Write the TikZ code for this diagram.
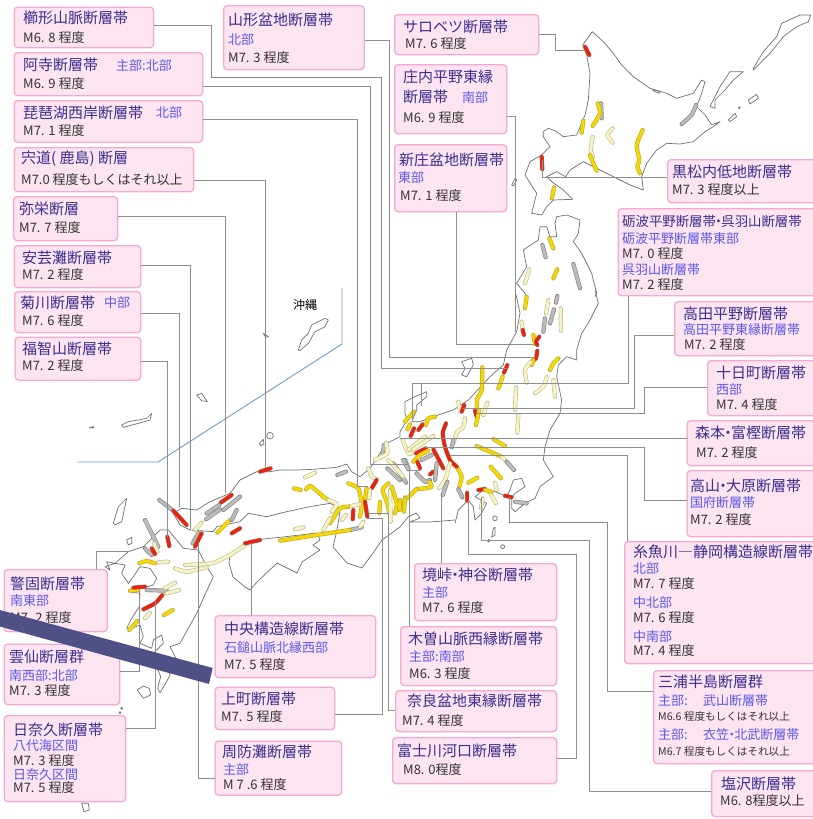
\documentclass[tikz,border=0pt]{standalone}
\usepackage{fontspec}
\setmainfont{Noto Sans CJK JP}
\definecolor{boxfill}{HTML}{FDE4F1}
\definecolor{boxline}{HTML}{F9A6D2}
\definecolor{ttlc}{HTML}{3B2E8E}
\definecolor{subc}{HTML}{5C58EA}
\definecolor{magc}{HTML}{333333}
\definecolor{conn}{HTML}{8E8E8E}
\definecolor{coast}{HTML}{6E6E6E}
\definecolor{barc}{HTML}{4F5186}
\definecolor{bluel}{HTML}{6F9BD0}
\definecolor{Ri}{HTML}{E8240C}\definecolor{Ro}{HTML}{B0584A}
\definecolor{Yi}{HTML}{F5D800}\definecolor{Yo}{HTML}{B8A838}
\definecolor{Pi}{HTML}{F6F3C4}\definecolor{Po}{HTML}{BDB98E}
\definecolor{Gi}{HTML}{BBBBBB}\definecolor{Go}{HTML}{808080}
\tikzset{
 fbox/.style={draw=boxline,fill=boxfill,line width=1.3pt,rounded corners=3.5pt,anchor=north west,inner sep=0pt},
 ttl/.style={anchor=west,inner sep=0pt,text=ttlc,font=\fontsize{15}{15}\selectfont},
 sub/.style={anchor=west,inner sep=0pt,text=subc,font=\fontsize{13}{13}\selectfont},
 mag/.style={anchor=west,inner sep=0pt,text=magc,font=\fontsize{13}{13}\selectfont},
 tiny/.style={anchor=west,inner sep=0pt,text=magc,font=\fontsize{10.6}{11}\selectfont},
 wire/.style={draw=conn,line width=1pt},
 land/.style={draw=coast,line width=.7pt,line join=round},
 z2/.style={shift={(0,280)},scale=1/3},
 z3/.style={shift={(400,0)},scale=1/3},
 z4/.style={shift={(400,290)},scale=1/3},
 z5/.style={shift={(0,540)},scale=1/3},
 z7/.style={shift={(280,380)},scale=1/3},
 z11/.style={shift={(130,480)},scale=1/3},
}
\newcommand\flt[2]{%
 \draw[line width=4.2pt,line cap=round,line join=round,color=#1o] plot[smooth,tension=.35] coordinates {#2};%
 \draw[line width=3pt,line cap=round,line join=round,color=#1i] plot[smooth,tension=.35] coordinates {#2};}
\newcommand\bx[5]{\node[fbox,minimum width=#4pt-#2pt,minimum height=#5pt-#3pt] (#1) at (#2,#3) {};}
\newcommand\lb[5]{\node[#1] (#2) at (#3,#4) {#5};}
\newcommand\tdot{\kern-.3em ・\kern-.3em }
\begin{document}
\begin{tikzpicture}[x=1pt,y=-1pt]
\useasboundingbox (0,0) rectangle (812,819);
% ---- land
\begin{scope}[z3]
 \draw[land] (577,95)--(610,125)--(640,160)--(665,195)--(700,230)--(750,265)--(800,280)--(830,295)--(880,280)--(905,240)--(915,245)--(905,280)--(890,320)--(915,345)--(935,375)--(960,365)--(940,380)--(915,395)--(880,425)--(840,432)--(800,430)--(770,450)--(740,490)--(725,530)--(730,570)--(690,555)--(640,530)--(590,505)--(550,485)--(510,510)--(497,530)--(470,515)--(440,530)--(455,545)--(490,570)--(518,598)--(460,600)--(440,620)--(425,645)--(395,640)--(410,580)--(375,525)--(390,485)--(425,465)--(450,440)--(430,410)--(430,395)--(445,385)--(470,395)--(490,410)--(530,405)--(555,345)--(565,300)--(570,220)--(560,165)--(548,135)--cycle;
 \draw[land] (1060,205)--(1090,155)--(1130,110)--(1145,70)--(1200,45)--(1232,45)--(1225,65)--(1190,80)--(1150,110)--(1110,160)--(1075,195)--(1060,210)--cycle;
 \draw[land] (930,320)--(960,260)--(990,215)--(1030,215)--(1000,240)--(975,270)--(945,300)--(945,325)--cycle;
 \draw[land] (1045,300)--(1070,283)--(1075,295)--(1050,312)--cycle;
 \draw[land] (985,360)--(1005,340)--(1010,350)--(990,365)--cycle;
 \draw[land] (1018,323) circle (3);
 \draw[land] (758,268)--(780,275)--(778,280)--(758,272)--cycle;
 \draw[land] (335,555)--(345,535)--(350,540)--(340,558)--cycle;
 \draw[land] (470,650)--(500,645)--(540,660)--(535,700)--(520,725)--(545,760)--(575,820)--(590,880)--(585,890);
 \draw[land] (470,650)--(465,670)--(470,710)--(450,710)--(440,680)--(420,680)--(415,720)--(370,750)--(380,800)--(350,850)--(375,880)--(380,890);
\end{scope}
\begin{scope}[z4]
 \draw[land] (585,0)--(595,40)--(570,90)--(545,130)--(530,180)--(530,210)--(500,200)--(475,225)--(470,260)--(485,330)--(480,370)--(450,420)--(435,470)--(430,510)--(460,560)--(420,590)--(405,625)--(375,640)--(345,665)--(335,655)--(335,625)--(345,610)--(375,590)--(365,565)--(340,570)--(330,600)--(320,620)--(285,605)--(250,600)--(225,620)--(260,640)--(245,670)--(225,690)--(220,650)--(205,630)--(175,660)--(165,700);
 \draw[land] (345,0)--(360,70)--(350,125)--(320,180)--(310,225)--(270,260)--(205,330)--(160,360)--(100,380)--(60,395)--(35,395)--(50,360)--(50,345)--(80,320)--(80,305)--(45,320)--(15,335)--(15,370)--(22,390)--(0,425);
 \draw[land] (185,215)--(215,205)--(220,225)--(200,260)--(185,255)--(195,235)--cycle;
 \draw[land] (285,685) circle (7);
 \draw[land] (280,715)--(285,712)--(285,735)--(275,742)--cycle;
 \draw[land] (266,752) circle (4);
 \draw[land] (308,770) circle (6);
\end{scope}
\begin{scope}[z7]
 \draw[land] (360,155)--(360,170)--(320,190)--(300,220)--(270,265)--(240,290)--(215,275)--(200,252)--(170,262)--(100,268)--(50,270)--(0,270);
\end{scope}
\begin{scope}[z2]
 \draw[land] (840,570)--(810,575)--(770,575)--(720,600)--(690,640)--(630,665)--(590,690)--(545,685)--(520,700)--(540,735)--(570,750)--(640,755)--(650,740)--(720,725)--(745,700)--(800,710)--(860,695)--(930,680)--(990,670)--(1010,680)--(1020,695);
 \draw[land] (340,730)--(355,680)--(380,655)--(375,680)--(365,725)--(345,735)--cycle;
 \draw[land] (380,780)--(395,772)--(395,790)--(385,795)--cycle;
 \draw[land] (268,443)--(282,440)--(280,444)--cycle;
 \draw[land] (365,435)--(385,425)--(415,420)--(440,415)--(455,400)--(450,420)--(415,430)--(370,442)--cycle;
 \draw[land] (895,210)--(905,180)--(925,160)--(935,135)--(975,115)--(985,120)--(975,140)--(945,155)--(925,190)--(900,212)--cycle;
 \draw[land] (790,160)--(805,170)--(797,172)--cycle;
 \draw[land] (810,467) circle (10);
 \draw[land] (778,490)--(790,478)--(792,492)--(782,497)--cycle;
 \draw[land] (590,345)--(605,340)--(622,365)--(605,362)--cycle;
\end{scope}
% Kii and Ise coast, px
\draw[land] (340,512)--(337,530)--(333,547)--(347,563)--(362,568)--(373,553)--(382,540)--(400,527)--(408,517)--(416,513)--(420,518)--(410,522)--(430,522)--(455,520);
% Shikoku, px
\draw[land] (245,543)--(230,555)--(229,563)--(233,577)--(245,587)--(250,590)--(257,582)--(277,563)--(297,573)--(302,562)--(320,550)--(313,545)--(320,540)--(317,533)--(283,537)--(253,540)--cycle;
% Kyushu
\begin{scope}[z5]
 \draw[land] (595,30)--(620,80)--(640,110)--(610,175)--(590,220)--(540,310)--(510,320)--(530,360)--(505,385)--(510,405)--(497,430)--(480,458)--(473,445)--(482,410)--(470,380)--(465,335)--(490,310)--(485,285)--(460,300)--(455,325)--(420,310)--(430,290)--(420,255)--(395,265)--(380,265)--(395,235)--(418,200)--(420,160)--(385,155)--(425,145)--(460,135)--(470,115)--(450,85)--(420,80)--(400,110)--(385,130)--(365,100)--(375,75)--(345,70)--(320,65)--(330,90)--(315,80)--(345,70)--(385,35)--(430,20)--(480,-30)--(505,-30)--(530,0)--(550,25)--(595,30);
 \draw[land] (412,450)--(430,438)--(448,445)--(452,465)--(430,475)--cycle;
 \draw[land] (245,790)--(265,790)--(268,810)--(252,815)--cycle;
 \draw[land] (365,505) circle (3);
 \draw[land] (360,518) circle (3);
\end{scope}
% ---- faults
\begin{scope}[z3]
 \flt{G}{(603,310)(605,355)}
 \flt{R}{(555,140)(568,165)}
 \flt{Y}{(593,310)(600,340)(578,378)}
 \flt{Y}{(550,362)(545,398)}
 \flt{P}{(578,410)(572,450)(578,470)}
 \flt{Y}{(570,465)(580,490)(590,512)}
 \flt{P}{(638,385)(622,405)(638,428)}
 \flt{Y}{(728,390)(710,435)(718,480)(712,500)(720,520)}
 \flt{G}{(888,315)(875,345)(845,372)}
 \flt{R}{(425,470)(427,508)}
 \flt{Y}{(462,562)(456,595)}
 \flt{Y}{(448,715)(460,745)}
 \flt{G}{(427,735)(437,772)}
 \flt{Y}{(472,808)(460,835)}
 \flt{G}{(520,792)(540,865)}
 \flt{P}{(388,808)(375,850)}
\end{scope}
\begin{scope}[z4]
 \flt{Y}{(380,20)(375,55)}
 \flt{P}{(365,95)(368,120)}
 \flt{R}{(368,120)(372,135)}
 \flt{Y}{(400,135)(405,162)}
 \flt{R}{(418,140)(408,155)(412,165)}
 \flt{R}{(412,182)(408,205)(398,212)}
 \flt{Y}{(400,210)(395,225)}
 \flt{G}{(472,18)(468,38)}
 \flt{P}{(445,30)(438,70)}
 \flt{G}{(462,58)(450,100)}
 \flt{P}{(482,55)(483,122)}
 \flt{G}{(435,85)(430,125)}
 \flt{Y}{(475,205)(460,220)(450,240)}
 \flt{P}{(392,215)(375,240)(380,278)}
 \flt{P}{(440,262)(430,290)(405,310)}
 \flt{P}{(460,270)(465,320)}
 \flt{R}{(322,225)(312,248)}
 \flt{Y}{(308,260)(295,295)}
 \flt{Y}{(247,232)(245,300)(232,325)(230,352)}
 \flt{P}{(175,335)(180,365)}
 \flt{R}{(193,345)(185,365)}
 \flt{P}{(262,338)(250,375)}
 \flt{R}{(225,362)(230,380)}
 \flt{Y}{(238,360)(228,405)}
 \flt{P}{(348,292)(345,360)}
 \flt{P}{(355,375)(352,428)}
 \flt{Y}{(42,365)(15,395)}
 \flt{Y}{(30,403)(22,418)}
 \flt{R}{(68,403)(55,420)}
 \flt{R}{(42,415)(32,438)}
 \flt{Y}{(105,380)(85,385)(78,405)}
 \flt{Y}{(170,530)(185,560)(178,590)}
 \flt{R}{(138,400)(128,430)(135,470)(150,510)(170,530)}
 \flt{P}{(195,385)(190,412)(172,425)(160,460)}
 \flt{G}{(160,450)(155,472)}
 \flt{Y}{(280,447)(315,468)}
 \flt{Y}{(230,468)(305,500)}
 \flt{P}{(305,500)(320,515)}
 \flt{G}{(320,515)(342,540)}
 \flt{Y}{(272,530)(303,565)}
 \flt{Y}{(205,578)(232,563)}
 \flt{G}{(175,598)(187,622)}
 \flt{R}{(202,608)(202,632)}
 \flt{R}{(235,600)(255,597)}
 \flt{P}{(285,578)(290,600)}
 \flt{P}{(268,605)(288,640)}
 \flt{Y}{(255,600)(275,605)}
 \flt{P}{(248,625)(243,655)}
 \flt{R}{(315,617)(335,622)}
 \flt{G}{(345,635)(380,640)}
 \flt{R}{(100,478)(130,535)}
 \flt{R}{(48,490)(78,475)}
 \flt{P}{(8,450)(25,490)(35,490)}
 \flt{P}{(25,480)(75,440)}
 \flt{P}{(40,478)(100,438)}
 \flt{Y}{(85,482)(60,495)(40,515)}
 \flt{G}{(95,495)(65,510)}
 \flt{R}{(52,515)(60,535)}
 \flt{R}{(100,545)(90,553)}
 \flt{G}{(110,520)(105,570)}
 \flt{P}{(150,520)(135,570)(118,595)}
 \flt{G}{(142,575)(128,615)}
 \flt{G}{(15,510)(25,535)}
 \flt{G}{(50,550)(75,575)(90,570)}
 \flt{Y}{(50,597)(75,595)(95,590)(88,575)}
 \flt{Y}{(50,597)(22,625)}
 \flt{Y}{(15,622)(10,660)}
\end{scope}
\begin{scope}[z2]
 \flt{R}{(780,575)(812,565)}
 \flt{P}{(915,592)(945,578)}
 \flt{G}{(1012,585)(1038,575)}
 \flt{Y}{(882,625)(902,630)}
 \flt{Y}{(918,628)(932,618)(970,650)(985,660)}
 \flt{P}{(985,660)(1010,672)(995,695)}
 \flt{P}{(885,748)(910,742)}
\end{scope}
\begin{scope}[z7]
 \flt{G}{(312,195)(308,222)}
 \flt{P}{(318,188)(322,220)(285,240)}
 \flt{P}{(265,265)(275,290)(285,295)}
 \flt{Y}{(205,310)(235,325)(245,375)(240,410)}
 \flt{R}{(290,300)(275,325)}
 \flt{Y}{(260,325)(255,360)}
 \flt{P}{(268,355)(270,330)}
 \flt{R}{(255,365)(262,410)}
 \flt{R}{(220,390)(218,418)}
 \flt{Y}{(300,365)(298,400)}
 \flt{Y}{(325,310)(308,330)(322,370)(328,400)}
 \flt{P}{(330,330)(332,425)}
 \flt{Y}{(335,320)(350,370)(345,400)}
 \flt{Y}{(375,355)(372,395)}
 \flt{Y}{(360,360)(358,390)}
 \flt{G}{(340,250)(378,308)}
 \flt{G}{(322,265)(360,300)}
 \flt{P}{(325,240)(370,290)}
 \flt{G}{(370,240)(385,268)}
 \flt{P}{(205,380)(240,372)}
 \flt{Y}{(150,430)(180,385)(205,380)}
 \flt{P}{(185,420)(198,405)}
 \flt{P}{(130,450)(150,415)}
 \flt{G}{(210,450)(245,442)}
 \flt{P}{(240,440)(250,425)}
 \flt{Y}{(0,482)(130,462)(210,450)}
\end{scope}
\begin{scope}[z11]
 \flt{G}{(88,60)(130,92)}
 \flt{R}{(130,92)(170,135)}
 \flt{G}{(45,120)(85,200)}
 \flt{G}{(45,205)(65,225)}
 \flt{P}{(72,190)(82,215)}
 \flt{R}{(65,205)(75,222)}
 \flt{R}{(112,170)(118,198)}
 \flt{P}{(215,128)(195,150)}
 \flt{G}{(205,160)(188,190)}
 \flt{R}{(215,160)(195,200)}
 \flt{R}{(272,68)(305,45)}
 \flt{G}{(230,100)(268,75)}
 \flt{G}{(228,118)(270,88)}
 \flt{G}{(280,90)(330,50)}
 \flt{Y}{(262,158)(300,120)}
 \flt{G}{(305,120)(320,90)}
 \flt{R}{(305,160)(330,145)}
 \flt{Y}{(28,250)(50,243)(75,250)}
 \flt{P}{(85,247)(115,245)}
 \flt{P}{(135,265)(170,275)(230,262)}
 \flt{P}{(165,255)(245,250)(300,225)(345,195)}
 \flt{R}{(345,190)(390,180)}
\end{scope}
\begin{scope}[z5]
 \flt{G}{(440,150)(500,152)}
 \flt{Y}{(390,152)(415,150)}
 \flt{R}{(400,143)(435,140)}
 \flt{P}{(495,145)(525,128)}
 \flt{P}{(500,160)(538,150)}
 \flt{R}{(430,208)(465,190)(487,165)}
 \flt{P}{(435,235)(450,218)}
 \flt{Y}{(492,225)(518,210)}
 \flt{Y}{(388,270)(412,243)}
\end{scope}
% ---- blue line
\coordinate (bl1) at (342,288);
\coordinate (bl2) at (342,344);
\coordinate (bl3) at (158,462);
\coordinate (bl4) at (77,462);
\draw[bluel,line width=.9pt] (bl1)--(bl2)--(bl3)--(bl4);
\lb{mag}{oki}{293}{305}{\fontsize{12}{12}\selectfont\color{black}沖縄}
% ---- boxes
\bx{a}{13.5}{6.5}{153}{47}
\lb{ttl}{a1}{23}{18}{櫛形山脈断層帯}\lb{mag}{a2}{23}{38}{M6. 8 程度}
\bx{b}{13.5}{52}{202}{95}
\lb{ttl}{b1}{23}{65}{阿寺断層帯}\lb{sub}{b2}{116}{66}{主部:北部}\lb{mag}{b3}{23}{84}{M6. 9 程度}
\bx{c}{13.5}{100}{202}{141.5}
\lb{ttl}{c1}{23}{113}{琵琶湖西岸断層帯}\lb{sub}{c2}{156}{113}{北部}\lb{mag}{c3}{23}{131}{M7. 1 程度}
\bx{d}{13.5}{147}{193}{191}
\lb{ttl}{d1}{21}{159}{宍道( 鹿島) 断層}\lb{mag}{d2}{21}{180}{M7.0 程度もしくはそれ以上}
\bx{e}{13}{196}{117}{240}
\lb{ttl}{e1}{19}{209}{弥栄断層}\lb{mag}{e2}{19}{228}{M7. 7 程度}
\bx{f}{13.5}{245}{140}{287}
\lb{ttl}{f1}{22}{258}{安芸灘断層帯}\lb{mag}{f2}{22}{275}{M7. 2 程度}
\bx{g}{14}{291}{140}{332}
\lb{ttl}{g1}{20}{303}{菊川断層帯}\lb{sub}{g2}{104}{303}{中部}\lb{mag}{g3}{22}{321}{M7. 6 程度}
\bx{h}{14.5}{336.5}{140}{379.5}
\lb{ttl}{h1}{22}{349}{福智山断層帯}\lb{mag}{h2}{22}{366}{M7. 2 程度}
\bx{i}{3.5}{569}{106.5}{631}
\lb{ttl}{i1}{10}{584}{警固断層帯}\lb{sub}{i2}{10}{601}{南東部}\lb{mag}{i3}{10}{618}{M7. 2 程度}
\bx{j}{3.5}{643.5}{119}{704}
\lb{ttl}{j1}{9}{657}{雲仙断層群}\lb{sub}{j2}{9}{676}{南西部:北部}\lb{mag}{j3}{9}{691}{M7. 3 程度}
\bx{k}{3.5}{715}{125}{801}
\lb{ttl}{k1}{13}{730}{日奈久断層帯}\lb{sub}{k2}{13}{746}{八代海区間}\lb{mag}{k3}{13}{761}{M7. 3 程度}\lb{sub}{k4}{13}{775}{日奈久区間}\lb{mag}{k5}{13}{788}{M7. 5 程度}
\bx{l}{214.5}{615}{375}{677}
\lb{ttl}{l1}{224}{629}{中央構造線断層帯}\lb{sub}{l2}{224}{648}{石鎚山脈北縁西部}\lb{mag}{l3}{224}{665}{M7. 5 程度}
\bx{m}{214.5}{686.5}{334}{729}
\lb{ttl}{m1}{221}{699}{上町断層帯}\lb{mag}{m2}{221}{717}{M7. 5 程度}
\bx{n}{214.5}{740.5}{341}{794.5}
\lb{ttl}{n1}{222}{752}{周防灘断層帯}\lb{sub}{n2}{223}{770}{主部}\lb{mag}{n3}{223}{785}{M 7 .6 程度}
\bx{o}{223}{5}{363.5}{69}
\lb{ttl}{o1}{228}{20}{山形盆地断層帯}\lb{sub}{o2}{228}{40}{北部}\lb{mag}{o3}{228}{58}{M7. 3 程度}
\bx{p}{394}{14}{538}{54}
\lb{ttl}{p1}{403}{27}{サロベツ断層帯}\lb{mag}{p2}{405}{44}{M7. 6 程度}
\bx{q}{394}{64}{506}{133}
\lb{ttl}{q1}{403}{77}{庄内平野東縁}\lb{ttl}{q2}{403}{97}{断層帯}\lb{sub}{q3}{462}{98}{南部}\lb{mag}{q4}{403}{118}{M6. 9 程度}
\bx{r}{394}{144}{506}{211}
\lb{ttl}{r1}{399}{160}{新庄盆地断層帯}\lb{sub}{r2}{398}{178}{東部}\lb{mag}{r3}{400}{196}{M7. 1 程度}
\bx{s}{667}{159}{816}{202}
\lb{ttl}{s1}{672}{172}{黒松内低地断層帯}\lb{mag}{s2}{672}{190}{M7. 3 程度以上}
\bx{t}{617.5}{208}{816}{295}
\lb{ttl}{t1}{622}{221}{\fontsize{13.4}{14}\selectfont 砺波平野断層帯\tdot 呉羽山断層帯}\lb{sub}{t2}{622}{239}{砺波平野断層帯東部}\lb{mag}{t3}{622}{254}{M7. 0 程度}\lb{sub}{t4}{622}{270}{呉羽山断層帯}\lb{mag}{t5}{622}{285}{M7. 2 程度}
\bx{u}{674}{301}{816}{355}
\lb{ttl}{u1}{683}{314}{高田平野断層帯}\lb{sub}{u2}{683}{330}{高田平野東縁断層帯}\lb{mag}{u3}{684}{345}{M7. 2 程度}
\bx{v}{707}{360}{816}{415}
\lb{ttl}{v1}{716}{373}{十日町断層帯}\lb{sub}{v2}{716}{390}{西部}\lb{mag}{v3}{716}{405}{M7. 4 程度}
\bx{w}{686.5}{420}{816}{465}
\lb{ttl}{w1}{695}{433}{森本\tdot 富樫断層帯}\lb{mag}{w2}{696}{453}{M7. 2 程度}
\bx{x}{686.5}{470}{816}{536}
\lb{ttl}{x1}{690}{486}{高山\tdot 大原断層帯}\lb{sub}{x2}{690}{503}{国府断層帯}\lb{mag}{x3}{690}{520}{M7. 2 程度}
\bx{y}{624}{541}{816}{663}
\lb{ttl}{y1}{633}{552}{糸魚川―静岡構造線断層帯}\lb{sub}{y2}{633}{569}{北部}\lb{mag}{y3}{633}{584}{M7. 7 程度}\lb{sub}{y4}{633}{603}{中北部}\lb{mag}{y5}{633}{618}{M7. 6 程度}\lb{sub}{y6}{633}{637}{中南部}\lb{mag}{y7}{633}{651}{M7. 4 程度}
\bx{z}{653}{670}{816}{763}
\lb{ttl}{z1}{658}{682}{三浦半島断層群}\lb{sub}{z2l}{658}{701}{主部:}\lb{sub}{z3l}{703}{701}{武山断層帯}\lb{tiny}{z4l}{658}{716}{M6.6 程度もしくはそれ以上}\lb{sub}{z5l}{658}{735}{主部:}\lb{sub}{z6l}{703}{735}{衣笠\tdot 北武断層帯}\lb{tiny}{z7l}{658}{751}{M6.7 程度もしくはそれ以上}
\bx{aa}{711}{770}{816}{816}
\lb{ttl}{aa1}{721}{784}{塩沢断層帯}\lb{mag}{aa2}{720}{801}{M6. 8程度以上}
\bx{ab}{414}{563}{556}{620}
\lb{ttl}{ab1}{422}{575}{境峠\tdot 神谷断層帯}\lb{sub}{ab2}{422}{593}{主部}\lb{mag}{ab3}{422}{608}{M7. 6 程度}
\bx{ac}{400}{626}{556}{685}
\lb{ttl}{ac1}{408}{639}{木曽山脈西縁断層帯}\lb{sub}{ac2}{409}{657}{主部:南部}\lb{mag}{ac3}{409}{674}{M6. 3 程度}
\bx{ad}{395}{690}{556}{731}
\lb{ttl}{ad1}{407}{701}{奈良盆地東縁断層帯}\lb{mag}{ad2}{402}{721}{M7. 4 程度}
\bx{ae}{392}{737}{556}{783}
\lb{ttl}{ae1}{397}{751}{富士川河口断層帯}\lb{mag}{ae2}{403}{770}{M8. 0程度}
% ---- connector free ends
\coordinate (ea0) at (507,368);
\coordinate (eb) at (407,464);
\coordinate (ec) at (368,486);
\coordinate (ed) at (265.6,468);
\coordinate (ee) at (225.6,493);
\coordinate (ef) at (190,530);
\coordinate (eg) at (179.5,507);
\coordinate (eh) at (167.5,537);
\coordinate (ei) at (130,551);
\coordinate (ej) at (139.5,590);
\coordinate (ek) at (155,600);
\coordinate (el) at (251.7,543);
\coordinate (em) at (367,518);
\coordinate (en) at (198,542);
\coordinate (eo) at (535,357);
\coordinate (ep) at (585,50.5);
\coordinate (eq) at (515,332);
\coordinate (er) at (533,344);
\coordinate (es) at (542,160);
\coordinate (et1) at (412,420);
\coordinate (et2) at (421.5,406);
\coordinate (et0) at (412,383.5);
\coordinate (eu) at (463,408);
\coordinate (ev) at (476,413.5);
\coordinate (ew) at (400,438.5);
\coordinate (ex) at (425,447.5);
\coordinate (ey) at (450,455.7);
\coordinate (ez) at (509,497);
\coordinate (eaa) at (481.7,497);
\coordinate (eab) at (441.7,493);
\coordinate (eac) at (420,470.5);
\coordinate (ead) at (368,513);
\coordinate (eae) at (468,500);
% ---- connectors
\draw[wire] (a.east |- 0,25.7) -- (211.5,25.7) -- (211.5,77.5) -- (381,77.5) -- (381,368) -- (ea0);
\draw[wire] (b.east |- 0,86.7) -- (370,86.7) -- (370,464) -- (eb);
\draw[wire] (c.east |- 0,119) -- (357.7,119) -- (357.7,486) -- (ec);
\draw[wire] (d.east |- 0,180) -- (265.6,180) -- (ed);
\draw[wire] (e.east |- 0,216.5) -- (225.6,216.5) -- (ee);
\draw[wire] (f.east |- 0,265.7) -- (190,265.7) -- (ef);
\draw[wire] (g.east |- 0,313) -- (179.5,313) -- (eg);
\draw[wire] (h.east |- 0,361.7) -- (167.5,361.7) -- (eh);
\draw[wire] (i.north -| 96,0) -- (96,551) -- (ei);
\draw[wire] (j.east |- 0,671.7) -- (139.5,671.7) -- (ej);
\draw[wire] (k.east |- 0,728) -- (155,728) -- (ek);
\draw[wire] (l.north -| 251.7,0) -- (el);
\draw[wire] (m.east |- 0,714) -- (382,714) -- (382,518) -- (em);
\draw[wire] (n.west |- 0,778) -- (198,778) -- (en);
\draw[wire] (o.east |- 0,40.7) -- (389,40.7) -- (389,357) -- (eo);
\draw[wire] (p.east |- 0,34) -- (555,34) -- (555,50.5) -- (ep);
\draw[wire] (q.east |- 0,116) -- (515,116) -- (eq);
\draw[wire] (r.south -| 456,0) -- (456,344) -- (er);
\draw[wire] (s.west |- 0,177) -- (542,177) -- (es);
\draw[wire] (t.south -| 628,0) -- (628,383.5) -- (et0) -- (et1);
\draw[wire] (421.5,383.5) -- (et2);
\draw[wire] (u.west |- 0,335) -- (634.5,335) -- (634.5,408) -- (eu);
\draw[wire] (v.west |- 0,387) -- (644,387) -- (644,413.5) -- (ev);
\draw[wire] (w.west |- 0,438.5) -- (ew);
\draw[wire] (x.west |- 0,500) -- (644,500) -- (644,447.5) -- (ex);
\draw[wire] (y.north -| 627.7,0) -- (627.7,455.7) -- (ey);
\draw[wire] (z.west |- 0,691.7) -- (607,691.7) -- (607,522.7) -- (509,522.7) -- (ez);
\draw[wire] (aa.west |- 0,791.7) -- (589,791.7) -- (589,540) -- (481.7,540) -- (eaa);
\draw[wire] (ab.north -| 441.7,0) -- (eab);
\draw[wire] (ac.north -| 409.5,0) -- (409.5,470.5) -- (eac);
\draw[wire] (ad.west |- 0,710) -- (388.3,710) -- (388.3,513) -- (ead);
\draw[wire] (ae.east |- 0,758) -- (576,758) -- (576,554) -- (468,554) -- (eae);
% ---- bar
\fill[barc] (-2,609.5) -- (212.7,668) -- (209,684) -- (-2,626) -- cycle;
\end{tikzpicture}
\end{document}
